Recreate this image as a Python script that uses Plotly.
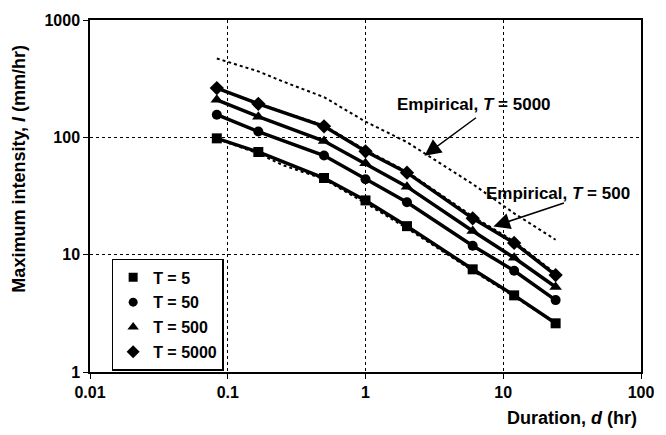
import plotly.graph_objects as go
import numpy as np

# Durations (hr)
durations = [0.0833, 0.1667, 0.5, 1, 2, 6, 12, 24]
t5 = [98, 75, 45, 29, 17.5, 7.5, 4.5, 2.6]
t50 = [156, 112, 70, 44, 28, 11.9, 7.3, 4.1]
t500 = [209, 150, 93, 60, 38, 15.9, 9.4, 5.3]
t5000 = [263, 193, 124, 76, 50, 20.4, 12.6, 6.7]

# Empirical curves
emp_durations = [0.0833, 0.1667, 0.25, 0.5, 1, 2, 6, 12, 24]
emp_t5000 = [470, 365, 300, 220, 136, 91, 40, 22.5, 13.4]
emp_t500 = [262, 194, 165, 126, 78, 51, 21.2, 13.0, 6.9]
emp_t5 = [97, 73, 58, 44, 27.5, 16.8, 7.3, 4.4, 2.6]

series_names = ["T = 5", "T = 50", "T = 500", "T = 5000"]
series_vals = [t5, t50, t500, t5000]
symbols = ["square", "circle", "triangle-up", "diamond"]
sizes = [10, 10, 11, 11]

x_ticks = [0.01, 0.1, 1, 10, 100]
x_ticktext = ["0.01", "0.1", "1", "10", "100"]
y_ticks = [1, 10, 100, 1000]
y_ticktext = ["1", "10", "100", "1000"]

FONT = "Liberation Sans, Arial, sans-serif"

fig = go.Figure()

for ev in [emp_t5, emp_t500, emp_t5000]:
    fig.add_trace(go.Scatter(x=emp_durations, y=ev, mode="lines",
                             line=dict(color="black", width=2, dash="dot"),
                             showlegend=False, hoverinfo="skip"))

for name, vals, sym, sz in zip(series_names, series_vals, symbols, sizes):
    fig.add_trace(go.Scatter(x=durations, y=vals, mode="lines+markers",
                             line=dict(color="black", width=3.5),
                             marker=dict(symbol=sym, size=sz, color="black"),
                             showlegend=False))

for i, (name, sym, sz) in enumerate(zip(series_names, symbols, sizes)):
    fig.add_trace(go.Scatter(x=[None], y=[None], mode="markers", name=name,
                             legendgroup=f"g{i}",
                             marker=dict(symbol=sym, size=sz - 1, color="black")))

axis_common = dict(type="log", showline=True, mirror=True, linecolor="black",
                   linewidth=1.5, ticks="outside", ticklen=5, tickcolor="black",
                   showgrid=True, gridcolor="black", gridwidth=1, griddash="dot",
                   zeroline=False,
                   tickfont=dict(family=FONT, size=16, color="black", weight="bold"))

fig.update_xaxes(range=[-2, 2], tickvals=x_ticks, ticktext=x_ticktext, **axis_common)
fig.update_yaxes(range=[0, 3], tickvals=y_ticks, ticktext=y_ticktext, **axis_common)

W, H = 666, 435
ml, mr, mt, mb = 90, 16, 14, 63
pw, ph = W - ml - mr, H - mt - mb

def px(xp):
    return (xp - ml) / pw

def py(yp):
    return (H - mb - yp) / ph

fig.update_layout(
    width=W, height=H,
    margin=dict(l=ml, r=mr, t=mt, b=mb),
    paper_bgcolor="white", plot_bgcolor="white",
    font=dict(family=FONT, color="black"),
    showlegend=True,
    legend=dict(x=px(112), y=py(257), xanchor="left", yanchor="top",
                bgcolor="white", bordercolor="black", borderwidth=1.5,
                font=dict(family=FONT, size=16, color="black", weight="bold"),
                traceorder="grouped", tracegroupgap=1, itemwidth=30),
    annotations=[
        dict(text="<b>Maximum intensity, <i>I</i> (mm/hr)</b>", textangle=-90,
             xref="paper", yref="paper", x=px(18), y=py(165), showarrow=False,
             xanchor="center", yanchor="middle", font=dict(family=FONT, size=18, color="black")),
        dict(text="<b>Duration, <i>d</i> (hr)</b>",
             xref="paper", yref="paper", x=px(648), y=py(419), showarrow=False,
             xanchor="right", yanchor="middle", font=dict(family=FONT, size=18, color="black")),
        dict(text="<b>Empirical, <i>T</i> = 5000</b>",
             xref="paper", yref="paper", x=px(480), y=py(100), showarrow=False,
             xanchor="center", yanchor="middle", font=dict(family=FONT, size=17, color="black")),
        dict(text="<b>Empirical, <i>T</i> = 500</b>",
             xref="paper", yref="paper", x=px(566), y=py(190), showarrow=False,
             xanchor="center", yanchor="middle", font=dict(family=FONT, size=17, color="black")),
        dict(text="", x=np.log10(2.68), y=np.log10(69.8), xref="x", yref="y",
             showarrow=True, axref="pixel", ayref="pixel", ax=53, ay=-39,
             arrowhead=2, arrowsize=2.2, arrowwidth=1.5, arrowcolor="black", standoff=0),
        dict(text="", x=np.log10(8.49), y=np.log10(17.4), xref="x", yref="y",
             showarrow=True, axref="pixel", ayref="pixel", ax=72, ay=-24,
             arrowhead=2, arrowsize=2.2, arrowwidth=1.5, arrowcolor="black", standoff=0),
    ],
)

fig.write_html("out.html", config={"displayModeBar": False},
               post_script="document.body.style.margin='0';document.body.style.overflow='hidden';")
